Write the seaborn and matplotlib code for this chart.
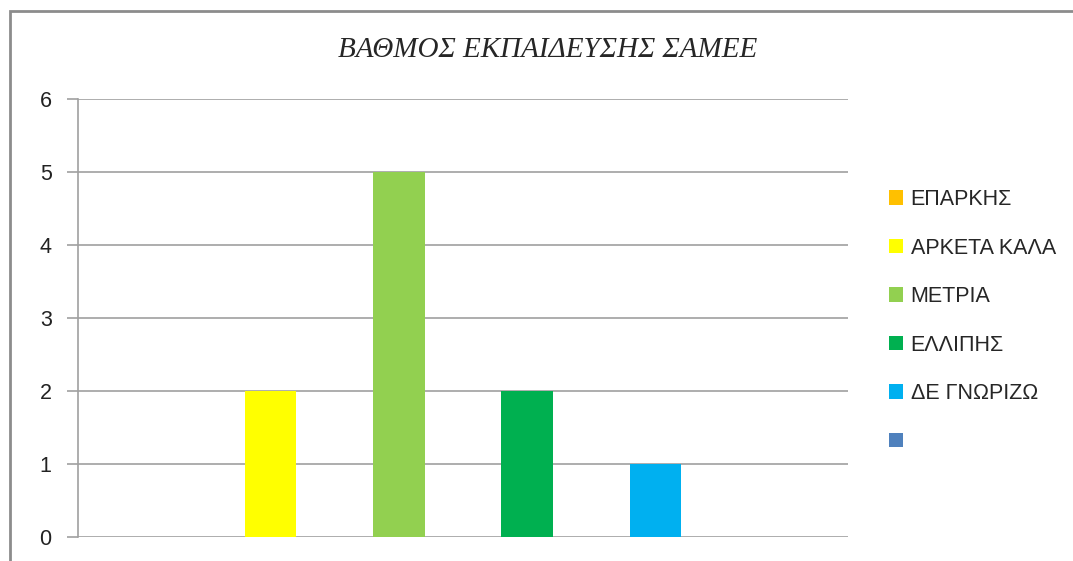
import matplotlib
matplotlib.use("Agg")
import matplotlib.pyplot as plt
from matplotlib.patches import Patch, Rectangle
import seaborn as sns

# Education level ratings
categories = ["ΕΠΑΡΚΗΣ", "ΑΡΚΕΤΑ ΚΑΛΑ", "ΜΕΤΡΙΑ", "ΕΛΛΙΠΗΣ", "ΔΕ ΓΝΩΡΙΖΩ", " "]
values = [0, 2, 5, 2, 1, 0]
colors = ["#FFC000", "#FFFF00", "#92D050", "#00B050", "#00B0F0", "#4F81BD"]
yticks = [0, 1, 2, 3, 4, 5, 6]
title = "ΒΑΘΜΟΣ ΕΚΠΑΙΔΕΥΣΗΣ ΣΑΜΕΕ"

sns.set_theme(style="white")
plt.rcParams["font.family"] = ["Liberation Sans", "DejaVu Sans"]

W, H = 1073, 561
fig = plt.figure(figsize=(W / 100, H / 100), dpi=100)
ax = fig.add_axes([78 / W, 1 - 537 / H, (848 - 78) / W, (537 - 99) / H])

palette = dict(zip(categories, colors))
sns.barplot(x=categories, y=values, hue=categories, palette=palette,
            width=0.4, dodge=False, legend=False, saturation=1,
            edgecolor="none", ax=ax)

ax.set_ylim(0, 6)
ax.set_xlim(-0.5, len(categories) - 0.5)
ax.set_yticks(yticks)
ax.set_yticklabels([str(t) for t in yticks], fontsize=15.5, color="#222222")
ax.set_xticks([])
ax.set_xlabel("")
ax.set_ylabel("")
ax.yaxis.grid(True, color="#A0A0A0", linewidth=1.2)
ax.set_axisbelow(True)
ax.tick_params(axis="y", length=8, width=1.2, color="#A0A0A0", pad=11, left=True)
for side in ["top", "right", "bottom"]:
    ax.spines[side].set_visible(False)
ax.spines["left"].set_color("#A0A0A0")
ax.spines["left"].set_linewidth(1.2)

# Chart title
fig.text(548 / W, 1 - 50 / H, title, ha="center", va="center",
         fontsize=21, style="italic", family=["Liberation Serif", "DejaVu Serif"])

# Legend with one square per category
handles = [Patch(facecolor=c, edgecolor="none") for c in colors]
fig.legend(handles, categories, loc="upper left",
           bbox_to_anchor=(889 / W, 1 - 189 / H), frameon=False,
           fontsize=15.5, handlelength=0.65, handleheight=0.65,
           handletextpad=0.35, labelspacing=1.28, borderpad=0,
           borderaxespad=0)

# Outer chart frame
fig.add_artist(Rectangle((10 / W, -0.1), 1.2, 1.1 - 11 / H,
                         transform=fig.transFigure, fill=False,
                         edgecolor="#8C8C8C", linewidth=2))

fig.savefig("out.png", dpi=100)
